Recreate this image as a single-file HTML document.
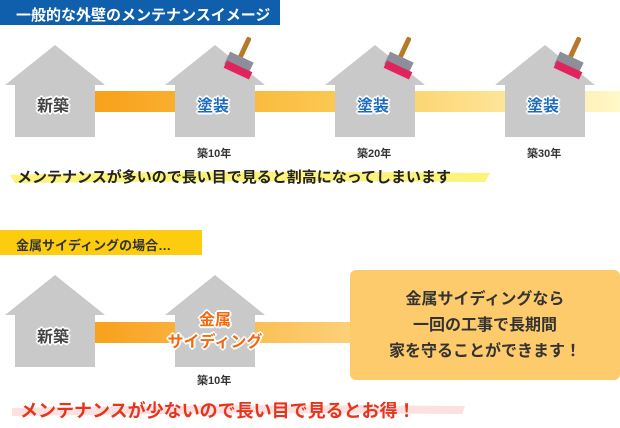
<!DOCTYPE html>
<html><head><meta charset="utf-8"><style>
body{margin:0;width:620px;height:428px;background:#fff;position:relative;overflow:hidden;font-family:"Liberation Sans","Noto Sans CJK JP",sans-serif;font-weight:bold}
.a{position:absolute;white-space:nowrap}
.lbl{font-size:16px;text-shadow:-2px 0 #fff,2px 0 #fff,0 -2px #fff,0 2px #fff,-1px -1px #fff,1px 1px #fff,-1px 1px #fff,1px -1px #fff}
.yr{font-size:11px;color:#333}
</style></head><body>
<svg class="a" style="left:0;top:0" width="620" height="428">
<defs>
<linearGradient id="g1" x1="0" x2="1"><stop offset="0" stop-color="#f8a01a"/><stop offset="0.45" stop-color="#fbc750"/><stop offset="1" stop-color="#fff8c8"/></linearGradient>
<linearGradient id="g2" x1="0" x2="1"><stop offset="0" stop-color="#f8a01a"/><stop offset="1" stop-color="#fdd27c"/></linearGradient>
<g id="h"><polygon points="0,40 50,0 100,40 90,40 90,92 10,92 10,40" fill="#c9c9c9"/></g>
<g id="b"><rect x="14" y="-2" width="5" height="26" rx="2" fill="#b8782a" transform="rotate(25 16 10)"/><rect x="-2" y="18" width="26" height="14" fill="#8c8f9a" transform="rotate(25 10 25)"/><rect x="-4" y="28" width="28" height="8" fill="#e0245e" transform="rotate(25 10 32)"/></g>
</defs>
<rect x="0" y="0" width="280" height="25" fill="#0f5fad"/>
<rect x="90" y="91" width="530" height="21" fill="url(#g1)"/>
<use href="#h" x="5" y="45"/><use href="#h" x="165" y="45"/><use href="#h" x="325" y="45"/><use href="#h" x="495" y="45"/>
<use href="#b" x="228" y="38"/><use href="#b" x="388" y="38"/><use href="#b" x="558" y="38"/>
<path d="M10 175 Q200 170 490 173 L485 182 Q250 180 15 183 Z" fill="#fbf37a"/>
<rect x="0" y="230" width="202" height="25" fill="#fbcd0e"/>
<rect x="90" y="322" width="270" height="21" fill="url(#g2)"/>
<use href="#h" x="5" y="275"/><use href="#h" x="165" y="275"/>
<rect x="350" y="270" width="270" height="110" rx="6" fill="#fdcb6b"/>
<path d="M12 408 Q230 404 465 406 L462 414 Q240 412 12 416 Z" fill="#fde0e0"/>
</svg>
<div class="a" style="left:16px;top:4px;font-size:15px;color:#fff">一般的な外壁のメンテナンスイメージ</div>
<div class="a lbl" style="left:37px;top:92px;color:#444">新築</div>
<div class="a lbl" style="left:197px;top:92px;color:#1a6bbd">塗装</div>
<div class="a lbl" style="left:357px;top:92px;color:#1a6bbd">塗装</div>
<div class="a lbl" style="left:527px;top:92px;color:#1a6bbd">塗装</div>
<div class="a yr" style="left:197px;top:145px">築10年</div>
<div class="a yr" style="left:357px;top:145px">築20年</div>
<div class="a yr" style="left:527px;top:145px">築30年</div>
<div class="a" style="left:17px;top:166px;font-size:15px;color:#222">メンテナンスが多いので長い目で見ると割高になってしまいます</div>
<div class="a" style="left:16px;top:235px;font-size:13px;color:#333">金属サイディングの場合…</div>
<div class="a lbl" style="left:37px;top:323px;color:#444">新築</div>
<div class="a lbl" style="left:155px;top:310px;width:120px;text-align:center;color:#f26a10;line-height:22px">金属<br>サイディング</div>
<div class="a yr" style="left:197px;top:372px">築10年</div>
<div class="a" style="left:350px;top:287px;width:270px;text-align:center;font-size:16px;line-height:26px;color:#333">金属サイディングなら<br>一回の工事で長期間<br>家を守ることができます！</div>
<div class="a" style="left:20px;top:397px;font-size:18px;color:#e8341c">メンテナンスが少ないので長い目で見るとお得！</div>
</body></html>
